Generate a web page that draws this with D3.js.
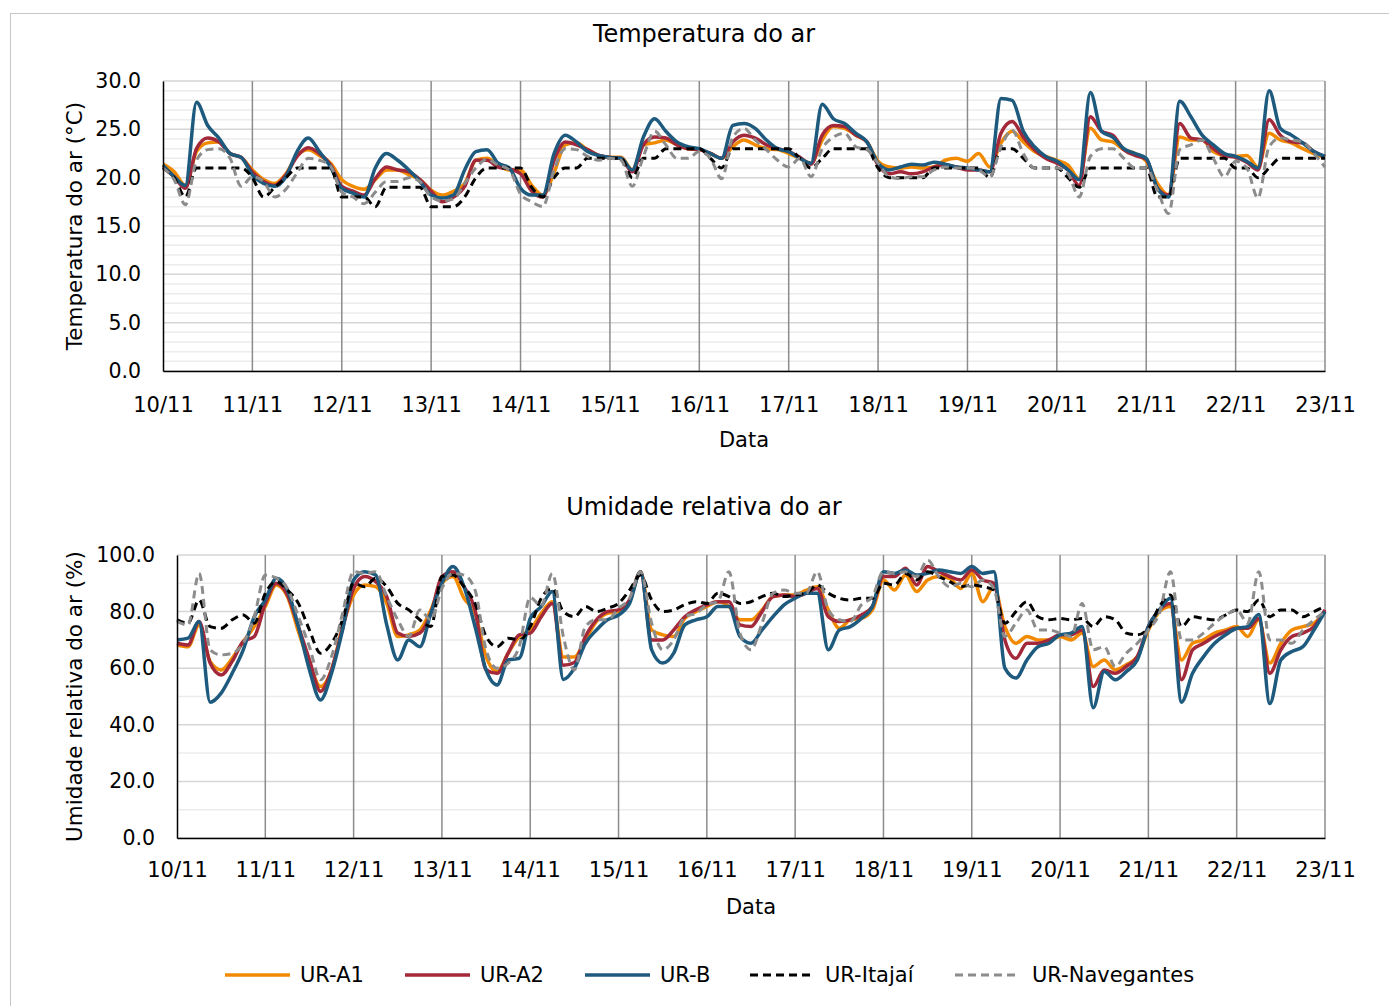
<!DOCTYPE html>
<html>

<head>
    <meta charset="utf-8">
    <style>
        body { margin: 0; background: #fff; }
        svg text { font-family: "DejaVu Sans", Verdana, sans-serif; fill: #000; }
    </style>
</head>

<body>
    <div class="container"></div>
    <script src="https://d3js.org/d3.v7.min.js"></script>

    <script>
        // leituras a cada 3 horas, de 10/11 00h ate 23/11 00h
        var startDay = new Date(2019, 10, 10);
        var stepHours = 3;
        var dayTicks = ["10/11", "11/11", "12/11", "13/11", "14/11", "15/11", "16/11", "17/11", "18/11", "19/11", "20/11", "21/11", "22/11", "23/11"];
        var seriesNames = ["UR-A1", "UR-A2", "UR-B", "UR-Itajaí", "UR-Navegantes"];

        var tempA1 = [21.4, 20.6, 19.2, 22.7, 23.6, 23.7, 22.5, 22.1, 20.8, 19.8, 19.4, 20.4, 22.3, 22.9, 22.3, 21.5, 19.8, 19.1, 18.8, 19.8, 20.8, 20.8, 20.3, 19.8, 18.7, 18.2, 18.6, 19.4, 21.8, 22.0, 21.3, 20.8, 20.8, 19.2, 18.2,
            20.5, 23.4, 23.6, 22.9, 22.3, 22.1, 22.1, 20.8, 23.4, 23.6, 23.9, 23.4, 23.0, 22.9, 22.5, 22.0, 23.2, 23.9, 23.4, 23.0, 22.9, 22.5, 22.0, 21.5, 23.9, 25.3, 25.1, 24.4, 23.7, 21.7, 21.1, 21.0, 21.1, 21.0, 21.1,
            21.8, 22.0, 21.7, 22.5, 21.1, 23.6, 24.8, 23.7, 22.7, 22.2, 21.8, 21.3, 19.9, 25.1, 23.9, 23.7, 22.9, 22.5, 21.7, 19.4, 18.2, 24.2, 23.9, 23.9, 22.7, 22.3, 22.2, 22.3, 21.1, 24.6, 23.9, 23.6, 23.0, 22.5, 22.1];
        var tempA2 = [21.1, 20.1, 18.9, 23.0, 24.1, 23.7, 22.5, 22.1, 20.6, 19.6, 19.2, 20.3, 22.2, 23.1, 22.5, 21.3, 19.1, 18.6, 18.2, 19.9, 21.1, 20.8, 20.6, 19.8, 18.6, 17.5, 18.0, 19.1, 21.8, 21.8, 21.1, 20.9, 20.4, 18.6, 18.0,
            21.8, 23.7, 23.4, 22.9, 22.3, 22.1, 22.0, 20.6, 23.4, 24.2, 24.1, 23.4, 23.0, 22.9, 22.5, 22.0, 23.7, 24.4, 24.1, 23.4, 23.0, 22.7, 22.1, 21.4, 24.4, 25.4, 25.3, 24.4, 23.7, 21.3, 20.4, 20.6, 20.4, 20.6, 21.1,
            21.3, 21.1, 20.8, 20.8, 20.6, 24.6, 25.8, 24.2, 22.9, 22.0, 21.5, 20.8, 19.2, 26.3, 24.8, 24.4, 22.9, 22.3, 21.9, 18.9, 18.2, 25.6, 24.1, 23.9, 23.0, 22.3, 22.1, 21.6, 20.8, 26.0, 24.4, 23.7, 23.6, 22.7, 22.2];
        var tempB = [21.3, 20.1, 19.2, 27.8, 25.4, 24.1, 22.5, 22.1, 20.3, 19.4, 19.1, 20.1, 22.7, 24.1, 22.7, 21.1, 18.9, 18.4, 18.0, 21.0, 22.5, 21.8, 20.8, 19.6, 18.2, 17.9, 18.2, 20.8, 22.7, 22.9, 21.5, 21.0, 18.9, 18.2, 18.2,
            22.5, 24.4, 23.7, 22.7, 22.3, 22.1, 22.0, 20.8, 24.2, 26.1, 24.8, 23.7, 23.2, 23.0, 22.5, 22.0, 25.4, 25.6, 25.1, 23.9, 23.0, 22.7, 22.0, 21.5, 27.6, 26.1, 25.6, 24.6, 23.7, 21.5, 20.8, 21.1, 21.4, 21.3, 21.6,
            21.4, 21.1, 21.0, 20.8, 20.6, 28.2, 28.0, 24.8, 23.2, 22.2, 21.7, 20.8, 19.8, 28.8, 24.8, 24.2, 23.0, 22.5, 22.0, 18.9, 18.0, 27.9, 26.3, 24.4, 23.4, 22.5, 22.2, 21.7, 21.0, 29.0, 25.1, 24.4, 23.6, 22.7, 22.2];
        var tempItajai = [21, 20, 18, 21, 21, 21, 21, 21, 20, 18, 19, 20, 21, 21, 21, 21, 18, 18, 18, 17, 19, 19, 19, 19, 17, 17, 17, 18, 20, 21, 21, 21, 21, 19, 18,
            20, 21, 21, 22, 22, 22, 22, 20, 22, 22, 23, 23, 23, 23, 22, 21, 23, 23, 23, 23, 23, 23, 22, 21, 22, 23, 23, 23, 23, 21, 20, 20, 20, 20, 21,
            21, 21, 21, 21, 20, 23, 23, 22, 21, 21, 21, 20, 19, 21, 21, 21, 21, 21, 21, 18, 18, 22, 22, 22, 22, 22, 21, 21, 20, 21, 22, 22, 22, 22, 22];
        var tempNavegantes = [21.0, 19.8, 17.2, 21.8, 22.9, 23.0, 22.0, 19.1, 20.1, 19.6, 18.0, 18.8, 20.5, 22.0, 21.8, 21.2, 18.5, 18.0, 17.3, 18.5, 19.6, 19.6, 20.0, 19.6, 18.0, 17.6, 17.8, 19.4, 21.0, 21.9, 21.3, 20.8, 18.3, 17.5, 17.0,
            20.8, 23.0, 22.9, 22.2, 21.8, 22.0, 21.8, 19.1, 22.2, 24.8, 23.4, 22.0, 22.0, 22.7, 22.0, 19.9, 24.2, 25.1, 23.9, 22.9, 21.8, 21.1, 22.0, 20.1, 23.0, 24.2, 24.6, 23.2, 22.9, 21.5, 20.1, 19.9, 20.1, 20.1, 20.8,
            21.1, 21.0, 21.0, 20.8, 20.1, 23.2, 24.9, 22.5, 21.0, 21.0, 21.0, 20.4, 18.0, 22.2, 23.0, 23.0, 22.0, 21.0, 21.0, 18.7, 16.3, 22.9, 23.4, 23.9, 22.0, 20.1, 21.7, 21.0, 17.9, 23.2, 24.1, 23.9, 23.7, 22.5, 21.1];

        var urA1 = [68.2, 67.6, 75.3, 62.4, 59.4, 63.5, 69.4, 74.7, 81.8, 89.4, 85.3, 72.9, 61.8, 53.5, 59.4, 74.7, 85.9, 89.4, 88.8, 82.9, 71.2, 71.8, 73.5, 80.6, 90.0, 92.4, 84.7, 79.4, 64.1, 58.8, 65.3, 71.2, 73.5, 79.4, 83.5,
            64.0, 64.0, 70.0, 76.5, 79.4, 80.0, 83.5, 94.1, 73.5, 71.8, 71.2, 77.6, 80.0, 81.8, 83.5, 81.8, 77.1, 77.1, 80.6, 85.3, 85.9, 85.9, 87.6, 88.8, 80.6, 74.1, 77.1, 77.6, 80.6, 91.2, 87.6, 92.9, 87.1, 91.2, 92.4,
            91.8, 88.2, 93.5, 83.5, 88.8, 74.7, 68.8, 71.2, 70.0, 70.0, 71.2, 70.0, 72.4, 60.6, 62.9, 59.4, 61.2, 64.1, 73.5, 80.0, 81.8, 62.9, 68.8, 70.0, 72.4, 73.5, 74.7, 71.2, 77.1, 61.8, 68.8, 73.5, 74.7, 75.9, 80.0];
        var urA2 = [68.8, 68.2, 76.5, 61.8, 57.6, 62.4, 69.4, 71.2, 82.9, 90.0, 85.9, 74.7, 62.9, 51.8, 59.4, 74.1, 88.2, 92.4, 90.6, 85.3, 72.4, 71.2, 72.4, 79.4, 92.4, 94.1, 88.8, 80.6, 59.4, 58.2, 65.3, 71.8, 72.4, 78.2, 82.9,
            61.0, 62.0, 71.2, 77.1, 80.0, 80.6, 84.1, 94.1, 70.0, 70.0, 73.5, 78.2, 80.6, 82.4, 83.5, 83.5, 75.3, 74.7, 80.0, 85.3, 85.9, 85.3, 86.5, 88.2, 78.2, 76.5, 77.1, 78.8, 81.8, 92.4, 92.4, 95.3, 89.4, 95.9, 94.1,
            92.4, 91.2, 94.7, 91.2, 90.0, 70.0, 63.5, 68.8, 68.8, 70.0, 71.8, 71.8, 73.5, 53.5, 59.4, 58.2, 60.6, 64.1, 74.7, 80.6, 82.9, 55.9, 66.5, 68.8, 71.2, 72.9, 74.1, 74.1, 77.6, 58.2, 66.5, 71.2, 72.4, 74.7, 80.6];
        var urB = [70.0, 70.6, 76.5, 48.0, 51.2, 58.2, 66.5, 78.2, 84.1, 91.8, 87.6, 74.7, 59.4, 48.8, 58.2, 73.5, 91.2, 94.1, 92.9, 75.3, 62.9, 70.0, 67.6, 79.4, 90.0, 95.9, 88.8, 74.7, 59.4, 54.1, 62.9, 63.5, 77.6, 81.8, 87.1,
            56.0, 60.0, 68.8, 73.5, 77.1, 78.8, 82.9, 94.1, 66.5, 61.8, 65.3, 75.3, 77.1, 78.2, 81.8, 81.8, 71.2, 68.8, 73.5, 78.2, 82.4, 84.7, 86.5, 86.5, 66.5, 73.5, 74.7, 77.6, 81.8, 94.1, 93.5, 94.7, 92.9, 93.5, 94.7,
            94.1, 93.5, 95.9, 93.5, 94.1, 60.0, 56.5, 62.9, 67.6, 68.8, 71.8, 72.4, 74.7, 46.0, 58.8, 55.9, 58.8, 62.9, 74.7, 80.6, 84.7, 48.0, 58.2, 64.1, 68.8, 71.8, 74.1, 74.7, 79.0, 47.5, 62.9, 65.9, 67.6, 73.5, 80.0];
        var urItajai = [77.1, 75.9, 84.1, 74.7, 74.1, 77.1, 78.8, 75.9, 86.5, 90.6, 87.6, 82.9, 73.5, 65.3, 68.8, 77.1, 90.0, 88.8, 91.8, 88.8, 82.9, 80.6, 77.1, 74.7, 92.4, 92.9, 88.8, 82.9, 71.2, 67.6, 70.6, 70.0, 74.7, 84.7, 88.2,
            80.0, 78.2, 81.8, 80.0, 81.2, 82.9, 87.6, 92.9, 84.1, 80.0, 80.6, 82.4, 83.5, 82.9, 86.5, 85.3, 82.9, 83.5, 85.3, 86.5, 85.3, 85.9, 86.5, 89.4, 86.5, 84.7, 84.1, 84.7, 84.7, 90.0, 89.4, 93.5, 91.2, 94.1, 92.4,
            90.6, 88.8, 89.4, 88.8, 87.6, 75.9, 80.0, 83.5, 78.2, 77.1, 77.6, 77.1, 77.6, 74.7, 78.2, 77.1, 72.4, 71.8, 74.1, 81.8, 85.9, 74.7, 78.2, 77.6, 77.1, 78.8, 80.6, 80.0, 84.1, 78.2, 80.6, 80.6, 78.2, 80.0, 81.8];
        var urNavegantes = [76.5, 75.3, 93.5, 66.5, 64.7, 65.3, 68.8, 78.2, 92.9, 91.8, 88.2, 78.2, 67.6, 55.9, 64.1, 79.4, 94.1, 93.5, 94.1, 85.3, 77.1, 71.2, 80.6, 77.1, 88.2, 93.5, 92.9, 87.6, 66.5, 60.0, 61.8, 67.6, 85.0, 82.0, 93.5,
            71.2, 59.4, 74.7, 77.1, 77.1, 81.2, 84.7, 94.1, 75.9, 66.5, 70.0, 78.2, 79.4, 82.4, 83.5, 94.1, 72.4, 66.5, 75.9, 86.5, 87.6, 86.5, 86.5, 94.1, 80.6, 77.1, 76.5, 82.4, 85.3, 94.1, 93.5, 94.1, 92.4, 98.2, 92.4,
            88.8, 90.0, 88.8, 91.2, 88.2, 71.2, 75.9, 80.6, 73.5, 73.5, 72.4, 71.2, 82.9, 66.5, 67.6, 60.6, 65.3, 68.8, 73.5, 79.4, 94.1, 70.0, 70.0, 72.4, 75.9, 78.8, 80.6, 75.9, 94.1, 70.0, 70.0, 68.8, 73.5, 77.1, 80.0];

        var W = 1389, H = 1006;
        var colors = ["#f28a00", "#a3283a", "#1d5a7e", "#000000", "#8c8c8c"];
        var dashes = [null, null, null, "8,5", "8,5"];
        var widths = [3.5, 3.5, 3.5, 3, 3];

        function timeAt(i) {
            return new Date(startDay.getTime() + i * stepHours * 3600 * 1000);
        }

        var svg = d3.select(".container")
            .append("svg")
            .attr("width", W)
            .attr("height", H);

        svg.append("rect")
            .attr("x", 10.5).attr("y", 13.5)
            .attr("width", W).attr("height", H)
            .attr("fill", "none")
            .attr("stroke", "#c8c8c8");

        function draw(opt) {
            var endDay = d3.timeDay.offset(startDay, dayTicks.length - 1);
            var x = d3.scaleTime().domain([startDay, endDay]).range([opt.left, 1325]);
            var y = d3.scaleLinear().domain([0, opt.max]).range([opt.bottom, opt.top]);
            var g = svg.append("g");

            // grade horizontal
            g.selectAll(".minor")
                .data(d3.range(0, opt.max + 0.001, opt.minor))
                .enter().append("line")
                .attr("x1", opt.left).attr("x2", 1325)
                .attr("y1", d => y(d)).attr("y2", d => y(d))
                .attr("stroke", d => (Math.round(d / opt.minor) % opt.majorEvery == 0) ? "#d6d6d6" : "#ececec")
                .attr("stroke-width", 1.5);

            // linhas dos dias
            var days = d3.timeDay.range(startDay, d3.timeDay.offset(endDay, 1));
            g.selectAll(".day")
                .data(days.slice(1))
                .enter().append("line")
                .attr("x1", d => x(d)).attr("x2", d => x(d))
                .attr("y1", opt.top).attr("y2", opt.bottom)
                .attr("stroke", "#8c8c8c")
                .attr("stroke-width", 1.5);

            var line = d3.line()
                .x((d, i) => x(timeAt(i)))
                .y(d => y(d))
                .curve(d3.curveMonotoneX);

            opt.series.forEach(function (s, k) {
                g.append("path")
                    .datum(s)
                    .attr("fill", "none")
                    .attr("stroke", colors[k])
                    .attr("stroke-width", widths[k])
                    .attr("stroke-dasharray", dashes[k])
                    .attr("stroke-linejoin", "round")
                    .attr("d", line);
            });

            var xAxis = d3.axisBottom(x)
                .tickValues(days)
                .tickFormat((d, i) => dayTicks[i])
                .tickSize(0)
                .tickPadding(opt.xPad);
            var gx = g.append("g")
                .attr("transform", "translate(0," + opt.bottom + ")")
                .call(xAxis);
            gx.select(".domain").attr("stroke", "#000").attr("stroke-width", 1.5);
            gx.selectAll("text").style("font-size", "21px").style("font-family", "DejaVu Sans");

            var yAxis = d3.axisLeft(y)
                .tickValues(d3.range(0, opt.max + 0.001, opt.labelStep))
                .tickFormat(d3.format(".1f"))
                .tickSize(0)
                .tickPadding(22);
            var gy = g.append("g")
                .attr("transform", "translate(" + opt.left + ",0)")
                .call(yAxis);
            gy.select(".domain").attr("stroke", "#000").attr("stroke-width", 1.5);
            gy.selectAll("text").style("font-size", "20.5px").style("font-family", "DejaVu Sans");

            g.append("text")
                .attr("x", 704).attr("y", opt.titleY)
                .attr("text-anchor", "middle")
                .style("font-size", "24px")
                .text(opt.title);

            g.append("text")
                .attr("x", (opt.left + 1325) / 2).attr("y", opt.bottom + 76)
                .attr("text-anchor", "middle")
                .style("font-size", "21px")
                .text("Data");

            g.append("text")
                .attr("transform", "translate(82," + (opt.top + opt.bottom) / 2 + ") rotate(-90)")
                .attr("text-anchor", "middle")
                .style("font-size", "21.5px")
                .text(opt.yTitle);
        }

        draw({
            series: [tempA1, tempA2, tempB, tempItajai, tempNavegantes],
            left: 163, top: 81, bottom: 371, max: 30,
            minor: 1, majorEvery: 5, labelStep: 5,
            xPad: 26, titleY: 42,
            title: "Temperatura do ar", yTitle: "Temperatura do ar (°C)"
        });

        draw({
            series: [urA1, urA2, urB, urItajai, urNavegantes],
            left: 177, top: 555, bottom: 838, max: 100,
            minor: 10, majorEvery: 2, labelStep: 20,
            xPad: 24, titleY: 515,
            title: "Umidade relativa do ar", yTitle: "Umidade relativa do ar (%)"
        });

        // legenda
        var legendX = [225, 405, 585, 750, 955];
        var leg = svg.append("g").attr("transform", "translate(0,975)");
        seriesNames.forEach(function (name, k) {
            leg.append("line")
                .attr("x1", legendX[k]).attr("x2", legendX[k] + 65)
                .attr("stroke", colors[k])
                .attr("stroke-width", widths[k])
                .attr("stroke-dasharray", dashes[k]);
            leg.append("text")
                .attr("x", legendX[k] + 75 + (k == 4 ? 2 : 0))
                .attr("dy", "0.35em")
                .style("font-size", "21px")
                .text(name);
        });
    </script>
</body>

</html>
